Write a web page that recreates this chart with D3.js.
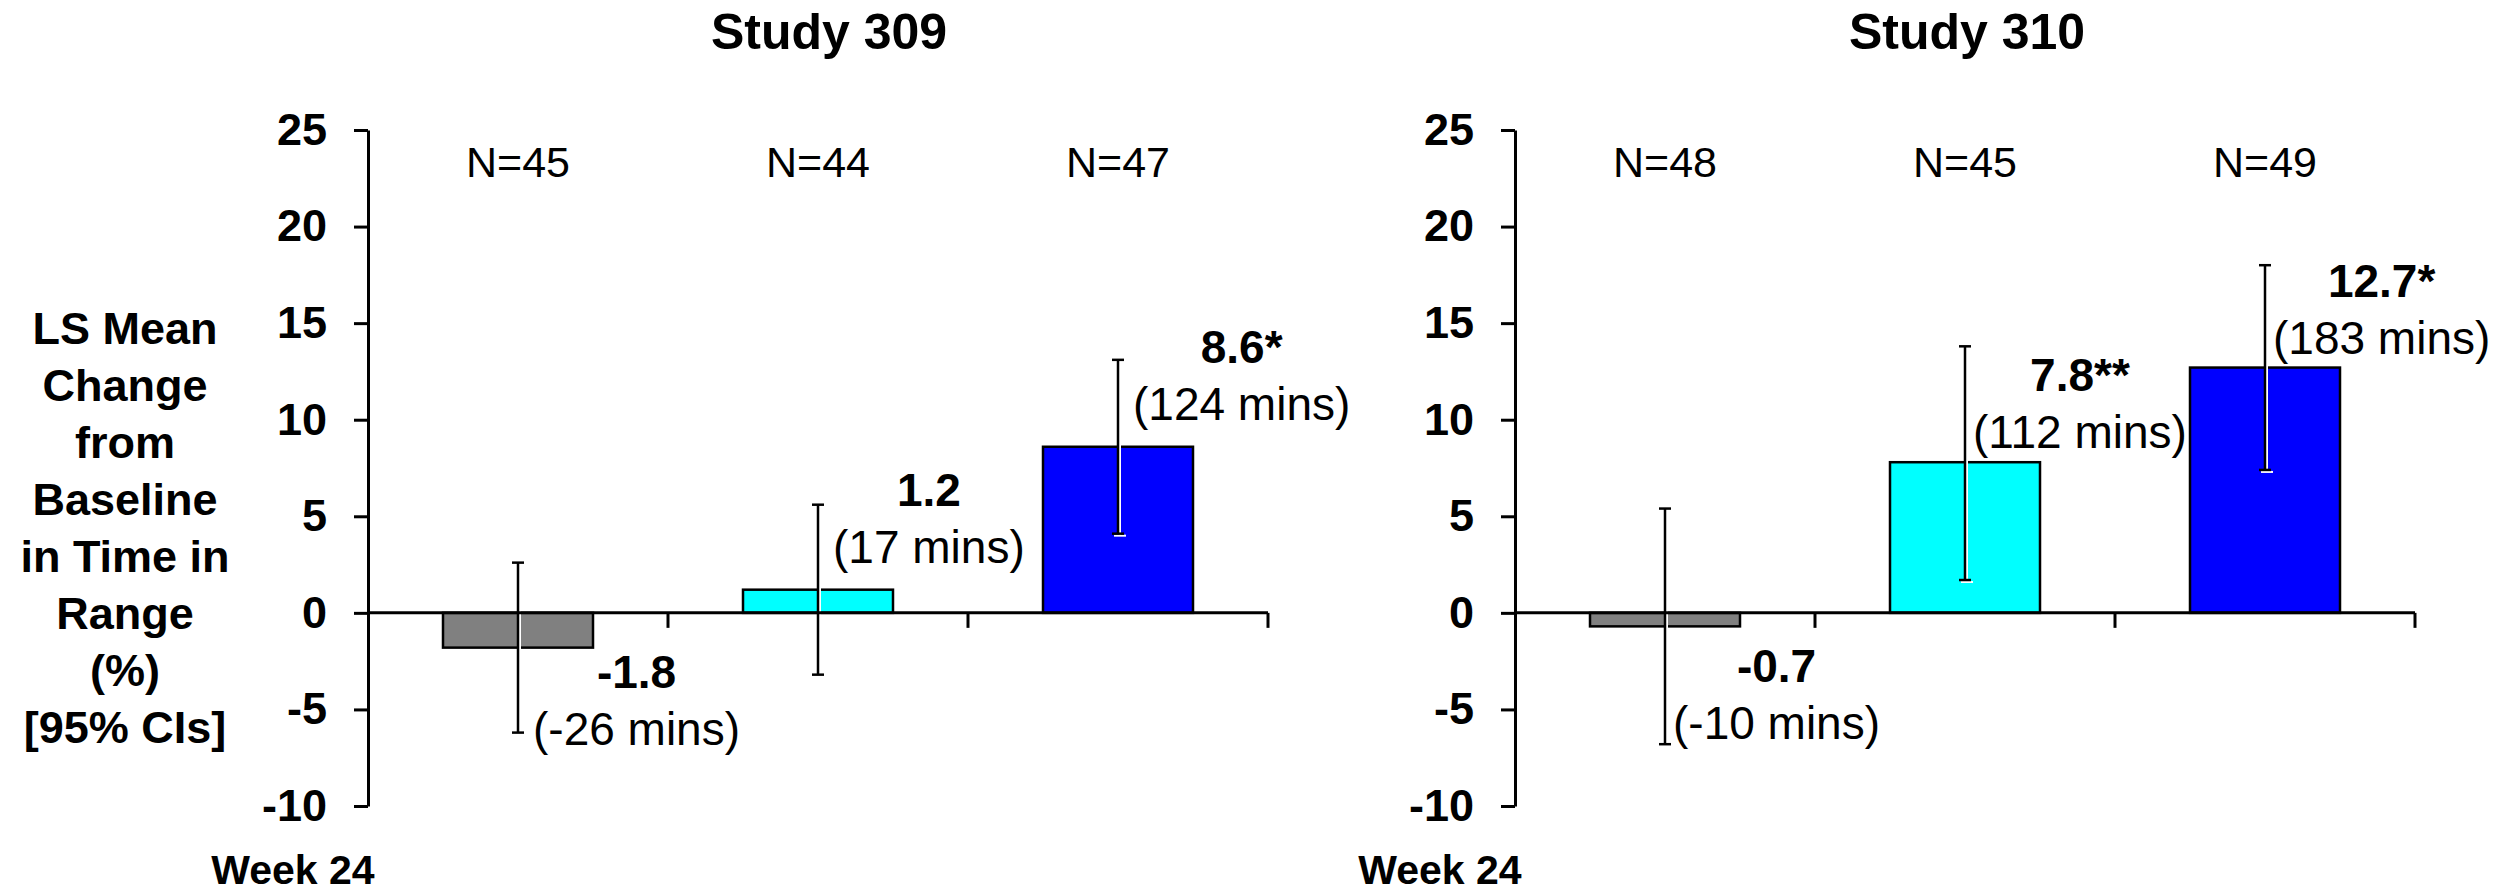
<!DOCTYPE html>
<html>
<head>
<meta charset="utf-8">
<script src="https://cdn.jsdelivr.net/npm/d3@7/dist/d3.min.js"></script>
<style>
  html, body { margin: 0; padding: 0; background: #ffffff; }
  svg { display: block; }
  text { font-family: Arial, "Liberation Sans", Helvetica, sans-serif; fill: #000; }
</style>
</head>
<body>
<svg id="chart" width="2507" height="895"></svg>
<script>
// ---- data ----
const arms = ["Arm 1", "Arm 2", "Arm 3"];
const armColors = ["#808080", "#00FFFF", "#0000FF"];
const yTicks = [25, 20, 15, 10, 5, 0, -5, -10];

const studyTitles = ["Study 309", "Study 310"];
const visitLabel = "Week 24";

const nCounts309 = [45, 44, 47];
const lsMean309 = [-1.8, 1.2, 8.6];
const ciLow309 = [-6.2, -3.2, 4.1];
const ciHigh309 = [2.6, 5.6, 13.1];
const minutes309 = [-26, 17, 124];
const signif309 = ["", "", "*"];

const nCounts310 = [48, 45, 49];
const lsMean310 = [-0.7, 7.8, 12.7];
const ciLow310 = [-6.8, 1.7, 7.4];
const ciHigh310 = [5.4, 13.8, 18.0];
const minutes310 = [-10, 112, 183];
const signif310 = ["", "**", "*"];

const yTitleLines = ["LS Mean", "Change", "from", "Baseline", "in Time in", "Range", "(%)", "[95% CIs]"];

// ---- layout ----
const FONT = 'Arial, "Liberation Sans", Helvetica, sans-serif';
const svg = d3.select("#chart");
const y = d3.scaleLinear().domain([-10, 25]).range([806, 130]);

const panels = [
  { title: studyTitles[0], x0: 368, titleX: 829, rise: 84, drop: 75, gapX: 15,
    n: nCounts309, mean: lsMean309, lo: ciLow309, hi: ciHigh309, mins: minutes309, sig: signif309 },
  { title: studyTitles[1], x0: 1515, titleX: 1967, rise: 71, drop: 69, gapX: 8,
    n: nCounts310, mean: lsMean310, lo: ciLow310, hi: ciHigh310, mins: minutes310, sig: signif310 }
];

// y-axis title (left panel only)
const yTitle = svg.append("text")
  .attr("text-anchor", "middle")
  .attr("font-weight", "bold")
  .attr("font-size", 45);
yTitleLines.forEach((line, i) => {
  yTitle.append("tspan").attr("x", 125).attr("y", 344 + i * 57).text(line);
});

panels.forEach(p => {
  const g = svg.append("g");
  const x = d3.scaleBand().domain(arms).range([p.x0, p.x0 + 900])
    .paddingInner(0.5).paddingOuter(0.25);
  const bw = x.bandwidth();
  const step = x.step();
  const rows = arms.map((a, i) => ({
    arm: a, color: armColors[i], n: p.n[i], v: p.mean[i], lo: p.lo[i], hi: p.hi[i],
    mins: p.mins[i], sig: p.sig[i], cx: x(a) + bw / 2
  }));

  // title
  g.append("text")
    .attr("x", p.titleX).attr("y", 49)
    .attr("text-anchor", "middle")
    .attr("font-weight", "bold").attr("font-size", 50)
    .text(p.title);

  // y axis
  const axis = g.append("g")
    .attr("transform", `translate(${p.x0},0)`)
    .call(d3.axisLeft(y).tickValues(yTicks).tickSize(14).tickSizeOuter(0)
      .tickPadding(27).tickFormat(d => String(d)));
  axis.select(".domain").attr("stroke", "#000").attr("stroke-width", 3);
  axis.selectAll(".tick line").attr("stroke", "#000").attr("stroke-width", 3);
  axis.selectAll(".tick text")
    .attr("font-family", FONT).attr("font-weight", "bold").attr("font-size", 45)
    .attr("fill", "#000");

  // bars
  g.selectAll("rect.bar").data(rows).join("rect")
    .attr("class", "bar")
    .attr("x", d => x(d.arm))
    .attr("width", bw)
    .attr("y", d => Math.min(y(d.v), y(0)))
    .attr("height", d => Math.abs(y(d.v) - y(0)))
    .attr("fill", d => d.color)
    .attr("stroke", "#000").attr("stroke-width", 2.5);

  // error-bar highlight (white offset copy, visible over the filled bars)
  const capW = 12;
  const shadow = g.append("g").attr("transform", "translate(2,2)")
    .attr("stroke", "#fff").attr("stroke-width", 2);
  rows.forEach(d => {
    shadow.append("line").attr("x1", d.cx).attr("x2", d.cx).attr("y1", y(d.hi)).attr("y2", y(d.lo));
    shadow.append("line").attr("x1", d.cx - capW / 2).attr("x2", d.cx + capW / 2).attr("y1", y(d.lo)).attr("y2", y(d.lo));
  });

  // zero baseline with category separators
  g.append("line")
    .attr("x1", p.x0).attr("x2", p.x0 + 900)
    .attr("y1", y(0)).attr("y2", y(0))
    .attr("stroke", "#000").attr("stroke-width", 3);
  arms.forEach(a => {
    const bx = x(a) + bw + step * 0.25;
    g.append("line")
      .attr("x1", bx).attr("x2", bx)
      .attr("y1", y(0)).attr("y2", y(0) + 15)
      .attr("stroke", "#000").attr("stroke-width", 3);
  });

  // 95% CI error bars
  const eb = g.append("g").attr("stroke", "#000").attr("stroke-width", 2.5);
  rows.forEach(d => {
    eb.append("line").attr("x1", d.cx).attr("x2", d.cx).attr("y1", y(d.hi)).attr("y2", y(d.lo));
    [d.hi, d.lo].forEach(v => {
      eb.append("line").attr("x1", d.cx - capW / 2).attr("x2", d.cx + capW / 2)
        .attr("y1", y(v)).attr("y2", y(v));
    });
  });

  // N labels
  g.selectAll("text.nlab").data(rows).join("text")
    .attr("class", "nlab")
    .attr("x", d => d.cx).attr("y", 177)
    .attr("text-anchor", "middle").attr("font-size", 43)
    .text(d => `N=${d.n}`);

  // value labels: bold mean over the minutes equivalent
  rows.forEach(d => {
    const base = d.v >= 0 ? y(d.v) - p.rise : y(0) + p.drop;
    const lab = g.append("g");
    const t1 = lab.append("text")
      .attr("y", base).attr("text-anchor", "middle")
      .attr("font-weight", "bold").attr("font-size", 46)
      .text(d.v.toFixed(1) + d.sig);
    const t2 = lab.append("text")
      .attr("y", base + 57).attr("text-anchor", "middle")
      .attr("font-size", 46)
      .text(`(${d.mins} mins)`);
    const w = Math.max(t1.node().getComputedTextLength(), t2.node().getComputedTextLength());
    const cx = d.cx + p.gapX + w / 2;
    t1.attr("x", cx);
    t2.attr("x", cx);
  });

  // visit label
  g.append("text")
    .attr("x", p.x0 - 75).attr("y", 884)
    .attr("text-anchor", "middle")
    .attr("font-weight", "bold").attr("font-size", 41)
    .text(visitLabel);
});
</script>
</body>
</html>
